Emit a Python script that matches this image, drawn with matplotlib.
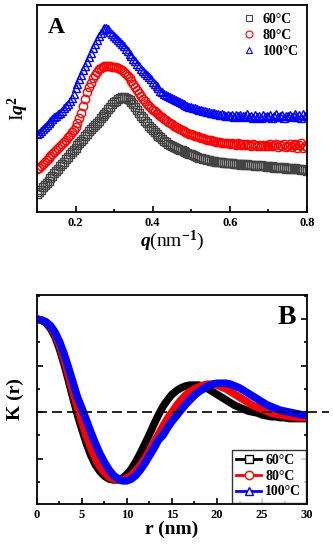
import numpy as np
import matplotlib
matplotlib.use("Agg")
import matplotlib.pyplot as plt
from matplotlib.ticker import MultipleLocator, NullFormatter
from matplotlib.lines import Line2D

plt.rcParams["font.family"] = ["Liberation Serif", "DejaVu Serif"]
plt.rcParams["font.weight"] = "bold"
plt.rcParams["mathtext.fontset"] = "custom"
plt.rcParams["mathtext.rm"] = "Liberation Serif:bold"
plt.rcParams["mathtext.bf"] = "Liberation Serif:bold"
plt.rcParams["mathtext.it"] = "Liberation Serif:italic:bold"

# panel A: Iq^2 vs q (arbitrary units), q = 0.100 ... 0.800 step 0.005
iq2_60 = [0.85, 0.95, 1.08, 1.2, 1.3, 1.42, 1.52, 1.65, 1.75, 1.88,
          1.98, 2.1, 2.2, 2.33, 2.42, 2.55, 2.65, 2.78, 2.88, 3.0,
          3.1, 3.22, 3.32, 3.45, 3.55, 3.68, 3.78, 3.9, 4.0, 4.1,
          4.2, 4.3, 4.4, 4.52, 4.62, 4.75, 4.85, 4.97, 5.08, 5.2,
          5.3, 5.38, 5.45, 5.52, 5.55, 5.55, 5.52, 5.47, 5.4, 5.3,
          5.2, 5.06, 4.92, 4.78, 4.65, 4.52, 4.4, 4.28, 4.17, 4.05,
          3.95, 3.85, 3.76, 3.68, 3.6, 3.52, 3.45, 3.37, 3.3, 3.25,
          3.2, 3.15, 3.1, 3.05, 3.0, 2.98, 2.95, 2.9, 2.85, 2.82,
          2.78, 2.74, 2.7, 2.66, 2.62, 2.6, 2.57, 2.55, 2.52, 2.5,
          2.48, 2.46, 2.45, 2.43, 2.42, 2.4, 2.4, 2.38, 2.37, 2.36,
          2.35, 2.38, 2.33, 2.3, 2.34, 2.3, 2.28, 2.32, 2.27, 2.3,
          2.28, 2.25, 2.29, 2.24, 2.26, 2.22, 2.25, 2.2, 2.24, 2.19,
          2.22, 2.18, 2.2, 2.15, 2.19, 2.14, 2.17, 2.12, 2.16, 2.1,
          2.13, 2.09, 2.14, 2.08, 2.11, 2.06, 2.1, 2.05, 2.08, 2.03,
          2.0]
iq2_80 = [2.07, 2.15, 2.22, 2.3, 2.4, 2.5, 2.6, 2.7, 2.8, 2.9,
          3.0, 3.1, 3.2, 3.3, 3.4, 3.5, 3.6, 3.72, 3.85, 3.97,
          4.1, 4.3, 4.55, 4.8, 5.1, 5.45, 5.8, 6.05, 6.25, 6.45,
          6.6, 6.75, 6.9, 6.97, 7.02, 7.05, 7.05, 7.07, 7.05, 7.02,
          7.0, 6.98, 6.95, 6.9, 6.85, 6.75, 6.65, 6.55, 6.45, 6.33,
          6.2, 6.05, 5.9, 5.75, 5.6, 5.47, 5.35, 5.22, 5.1, 5.02,
          4.95, 4.87, 4.8, 4.72, 4.65, 4.57, 4.5, 4.42, 4.35, 4.3,
          4.25, 4.17, 4.1, 4.05, 4.0, 3.95, 3.9, 3.86, 3.82, 3.78,
          3.75, 3.72, 3.68, 3.65, 3.62, 3.59, 3.56, 3.53, 3.5, 3.48,
          3.46, 3.44, 3.42, 3.4, 3.38, 3.36, 3.35, 3.33, 3.32, 3.31,
          3.3, 3.34, 3.28, 3.25, 3.31, 3.27, 3.24, 3.3, 3.22, 3.28,
          3.25, 3.2, 3.28, 3.22, 3.18, 3.26, 3.2, 3.24, 3.17, 3.23,
          3.2, 3.27, 3.18, 3.22, 3.3, 3.16, 3.24, 3.19, 3.27, 3.15,
          3.2, 3.28, 3.12, 3.22, 3.3, 3.1, 3.25, 3.32, 3.08, 3.2,
          3.15]
iq2_100 = [3.75, 3.82, 3.9, 4.0, 4.1, 4.2, 4.3, 4.4, 4.5, 4.58,
           4.65, 4.72, 4.8, 4.9, 5.0, 5.1, 5.22, 5.35, 5.5, 5.72,
           6.0, 6.2, 6.4, 6.6, 6.85, 7.05, 7.25, 7.5, 7.7, 7.9,
           8.1, 8.3, 8.5, 8.65, 8.8, 8.9, 8.88, 8.82, 8.7, 8.6,
           8.5, 8.4, 8.3, 8.2, 8.1, 8.0, 7.88, 7.77, 7.65, 7.52,
           7.4, 7.28, 7.15, 7.03, 6.92, 6.8, 6.7, 6.6, 6.5, 6.4,
           6.3, 6.2, 6.08, 5.97, 5.85, 5.78, 5.72, 5.66, 5.6, 5.55,
           5.5, 5.45, 5.4, 5.35, 5.3, 5.26, 5.2, 5.15, 5.1, 5.08,
           5.05, 5.02, 5.0, 4.97, 4.95, 4.92, 4.9, 4.87, 4.85, 4.82,
           4.8, 4.78, 4.76, 4.74, 4.72, 4.7, 4.72, 4.68, 4.66, 4.7,
           4.65, 4.7, 4.6, 4.68, 4.62, 4.7, 4.58, 4.66, 4.62, 4.72,
           4.6, 4.65, 4.56, 4.68, 4.6, 4.64, 4.55, 4.7, 4.58, 4.62,
           4.6, 4.68, 4.55, 4.65, 4.72, 4.58, 4.62, 4.7, 4.56, 4.66,
           4.62, 4.7, 4.58, 4.66, 4.74, 4.6, 4.68, 4.55, 4.72, 4.64,
           4.68]
q = np.round(0.1 + 0.005 * np.arange(len(iq2_60)), 3)

# panel B: K(r), r = 0 ... 30 step 0.5 nm
k_60 = [1.0, 0.99, 0.96, 0.9, 0.81, 0.68, 0.52, 0.34, 0.15, -0.03,
        -0.19, -0.34, -0.47, -0.57, -0.64, -0.69, -0.72, -0.73, -0.73, -0.71,
        -0.67, -0.61, -0.53, -0.44, -0.34, -0.24, -0.13, -0.03, 0.06, 0.13,
        0.19, 0.23, 0.26, 0.28, 0.29, 0.29, 0.29, 0.27, 0.25, 0.22,
        0.19, 0.16, 0.13, 0.1, 0.07, 0.05, 0.03, 0.01, 0.0, -0.01,
        -0.03, -0.04, -0.05, -0.05, -0.06, -0.06, -0.07, -0.07, -0.07, -0.07,
        -0.07]
k_80 = [1.0, 0.99, 0.97, 0.92, 0.84, 0.72, 0.57, 0.4, 0.22, 0.05,
        -0.11, -0.26, -0.39, -0.5, -0.59, -0.65, -0.7, -0.72, -0.73, -0.73,
        -0.71, -0.68, -0.63, -0.57, -0.5, -0.42, -0.33, -0.24, -0.15, -0.07,
        0.0, 0.07, 0.13, 0.18, 0.22, 0.25, 0.27, 0.29, 0.3, 0.3,
        0.29, 0.27, 0.25, 0.22, 0.19, 0.16, 0.13, 0.1, 0.07, 0.05,
        0.03, 0.01, -0.01, -0.02, -0.03, -0.04, -0.05, -0.05, -0.06, -0.06,
        -0.06]
k_100 = [1.0, 0.99, 0.97, 0.93, 0.86, 0.76, 0.63, 0.48, 0.32, 0.16,
         0.04, -0.09, -0.22, -0.34, -0.45, -0.54, -0.62, -0.68, -0.72, -0.74,
         -0.74, -0.72, -0.68, -0.62, -0.55, -0.47, -0.39, -0.3, -0.25, -0.17,
         -0.1, -0.04, 0.02, 0.08, 0.13, 0.18, 0.22, 0.25, 0.28, 0.3,
         0.31, 0.31, 0.31, 0.3, 0.28, 0.26, 0.23, 0.2, 0.17, 0.14,
         0.11, 0.08, 0.06, 0.04, 0.02, 0.01, 0.0, -0.01, -0.02, -0.03,
         -0.03]
r = 0.5 * np.arange(len(k_60))

labels = ["60°C", "80°C", "100°C"]
colors = ["#444444", "red", "blue"]
mk = ["s", "o", "^"]

fig = plt.figure(figsize=(3.33, 5.5), dpi=100)
axA = fig.add_axes([0.111, 0.6145, 0.811, 0.3765])
axB = fig.add_axes([0.111, 0.0836, 0.811, 0.38])

for ax in (axA, axB):
    for s in ax.spines.values():
        s.set_linewidth(1.3)

# --- A
for y, c, m, lab in zip([iq2_60, iq2_80, iq2_100], colors, mk, labels):
    axA.plot(q, y, ls="none", marker=m, ms=6, mfc="none", mec=c, mew=1.0, label=lab)
axA.set_xlim(0.1, 0.8)
axA.set_ylim(0, 10)
axA.xaxis.set_major_locator(MultipleLocator(0.2))
axA.xaxis.set_minor_locator(MultipleLocator(0.1))
axA.set_yticks([])
axA.tick_params(axis="x", which="both", direction="in", labelsize=9, width=1.2)
axA.tick_params(axis="x", which="major", length=4)
axA.tick_params(axis="x", which="minor", length=2.5)
axA.set_xlabel(r"$q$(nm$^{-1}$)", fontsize=14, labelpad=0)
axA.set_ylabel(r"I$q^{2}$", fontsize=14, labelpad=4)
axA.text(0.04, 0.94, "A", transform=axA.transAxes, fontsize=17, fontweight="bold", va="top")
leg_a = axA.legend(loc="upper right", frameon=False, fontsize=10, handletextpad=0.4,
                   borderaxespad=0.2, labelspacing=0.2, handlelength=1.2)
for h in leg_a.legend_handles:
    h.set_markersize(5)
    h.set_markeredgewidth(0.8)

# --- B
for y, c in zip([k_60, k_80, k_100], ["black", "red", "blue"]):
    axB.plot(r, y, color=c, lw=5.5, solid_capstyle="round", solid_joinstyle="round")
axB.axhline(0, color="black", lw=1.2, ls=(0, (6, 3)), clip_on=False, xmax=1.08)
axB.set_xlim(0, 30)
axB.set_ylim(-0.99, 1.26)
axB.xaxis.set_major_locator(MultipleLocator(5))
axB.xaxis.set_minor_locator(MultipleLocator(2.5))
axB.yaxis.set_major_locator(MultipleLocator(0.5))
axB.yaxis.set_minor_locator(MultipleLocator(0.25))
axB.yaxis.set_major_formatter(NullFormatter())
axB.tick_params(which="both", direction="in", right=True, labelsize=9, width=1.2)
axB.tick_params(which="major", length=4)
axB.tick_params(which="minor", length=2.5)
axB.set_xlabel("r (nm)", fontsize=14, fontweight="bold", labelpad=0)
axB.set_ylabel("K (r)", fontsize=14, fontweight="bold", labelpad=6)
axB.text(0.96, 0.95, "B", transform=axB.transAxes, fontsize=20, fontweight="bold",
         va="top", ha="right")
handles = [Line2D([], [], color=c, lw=2, marker=m, ms=6, mfc="white", mec=c, mew=1)
           for c, m in zip(["black", "red", "blue"], mk)]
leg = axB.legend(handles, labels, loc="lower right", fontsize=10, frameon=True,
                 fancybox=False, edgecolor="black", handlelength=1.8, handletextpad=0.3,
                 borderpad=0.3, labelspacing=0.2, borderaxespad=0.1)
leg.get_frame().set_linewidth(1.0)

for ax in (axA, axB):
    for t in ax.get_xticklabels():
        t.set_fontweight("bold")

fig.savefig("out.png", dpi=100)
